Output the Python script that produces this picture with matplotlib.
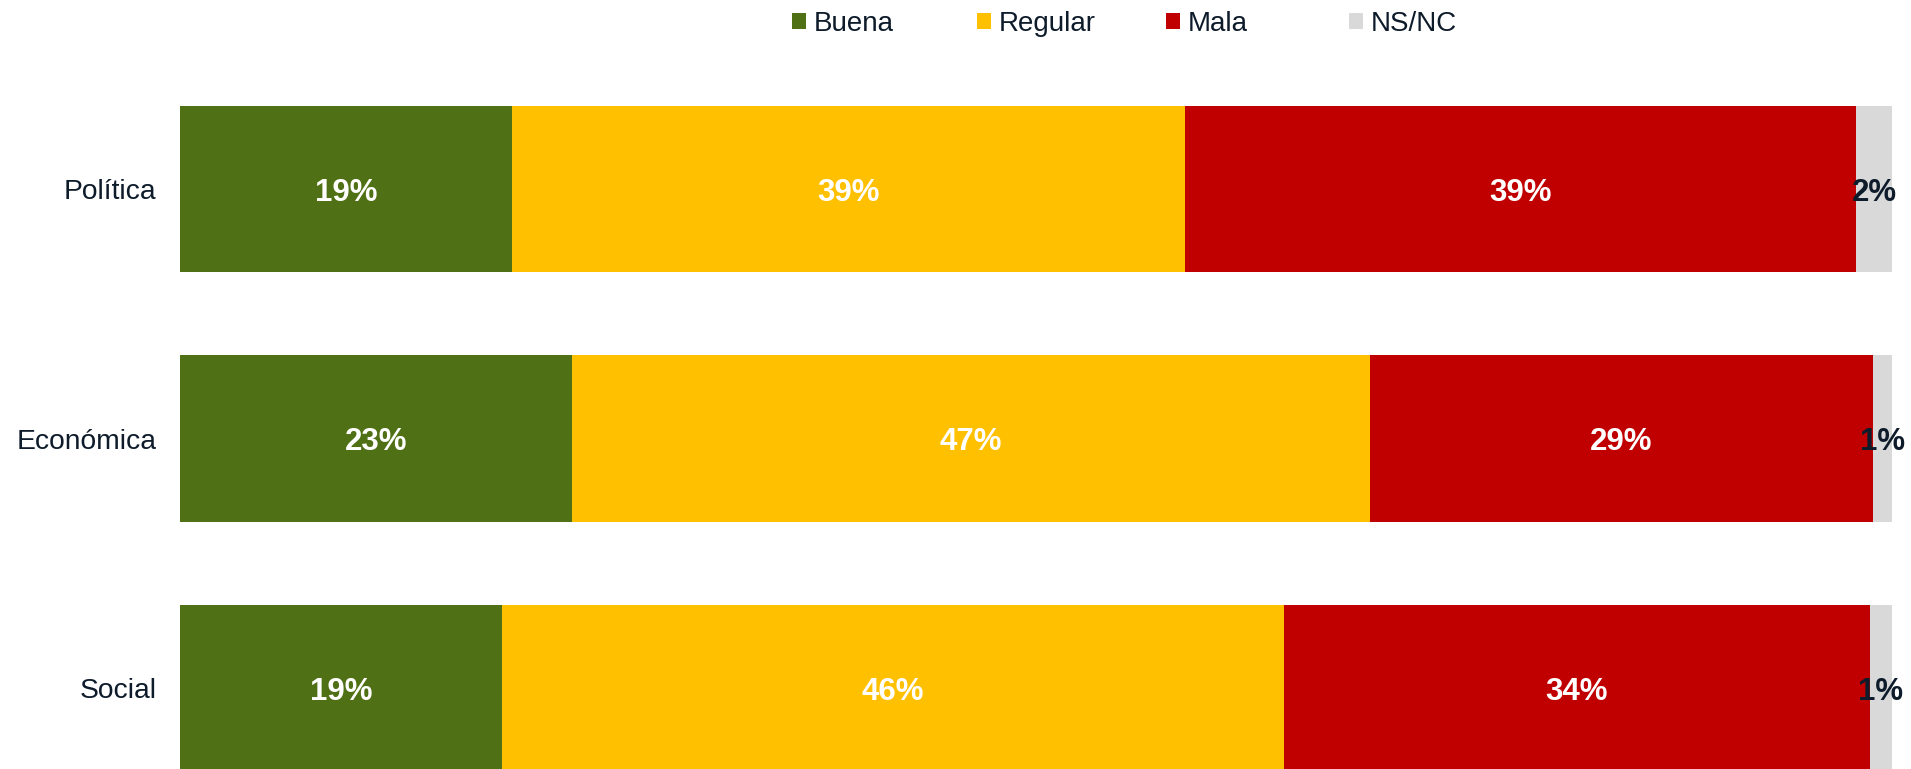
import numpy as np
import matplotlib
matplotlib.use('Agg')
import matplotlib.pyplot as plt

plt.rcParams['font.family'] = ['Liberation Sans', 'DejaVu Sans']

categorias = ["Política", "Económica", "Social"]
series = ["Buena", "Regular", "Mala", "NS/NC"]
buena = [19.4, 22.9, 18.8]
regular = [39.3, 46.6, 45.7]
mala = [39.2, 29.4, 34.2]
nsnc = [2.1, 1.1, 1.3]

colores = ["#507015", "#FFC000", "#C00000", "#D9D9D9"]
colores_texto = ["white", "white", "white", "#0d1b2a"]
TXT = "#0d1b2a"

fig = plt.figure(figsize=(19.11, 7.69), dpi=100)
ax = fig.add_axes([180 / 1911, 0.0, 1712 / 1911, 663 / 769])

y = np.arange(len(categorias))[::-1]  # Política arriba
izq = np.zeros(len(categorias))
barras = []
for nombre, vals, col, ctxt in zip(series, [buena, regular, mala, nsnc], colores, colores_texto):
    vals = np.array(vals)
    b = ax.barh(y, vals, left=izq, height=0.667, color=col, label=nombre, linewidth=0)
    barras.append(b)
    for yi, l, v in zip(y, izq, vals):
        ax.text(l + v / 2, yi, f"{round(v):.0f}%", ha='center', va='center_baseline',
                color=ctxt, fontsize=22.5, fontweight='bold')
    izq += vals

ax.set_xlim(0, 100)
ax.set_ylim(-0.324, 2.3335)
ax.set_yticks(y)
ax.set_yticklabels(categorias, fontsize=20.3, color=TXT)
ax.tick_params(axis='y', length=0, pad=17)
ax.set_xticks([])
for s in ax.spines.values():
    s.set_visible(False)

# leyenda estilo Excel, una entrada por posición
pos_leyenda = [792, 977, 1166, 1349]
for b, nombre, px in zip(barras, series, pos_leyenda):
    fig.legend([b], [nombre], loc='center left', bbox_to_anchor=(px / 1911, 0.969),
               frameon=False, fontsize=20, handlelength=0.5, handleheight=0.5,
               handletextpad=0.3, labelcolor=TXT, borderaxespad=0, borderpad=0)

fig.savefig("out.png", dpi=100)
